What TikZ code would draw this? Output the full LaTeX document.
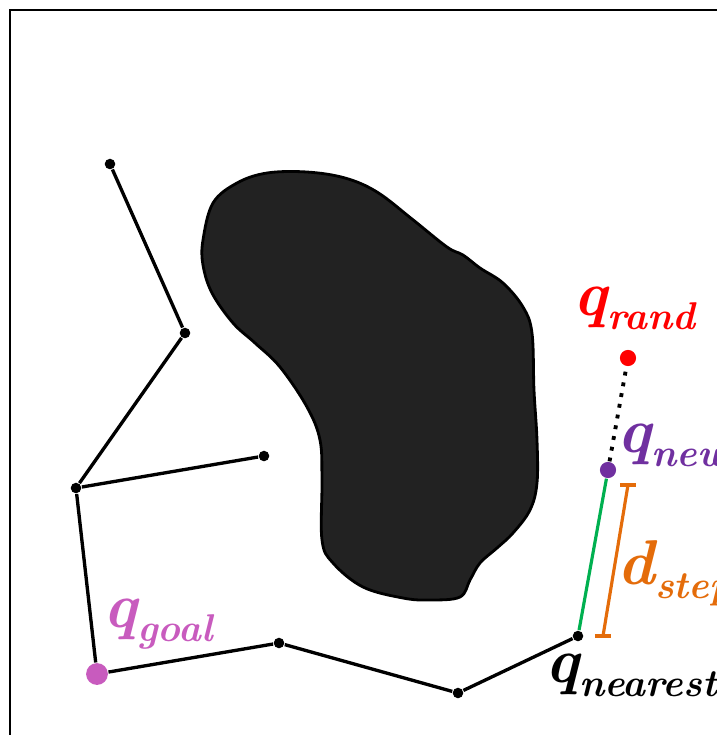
\documentclass[tikz,border=0pt]{standalone}
\usepackage{fontspec}
\definecolor{cred}{HTML}{FF0000}
\definecolor{cpurple}{HTML}{7030A0}
\definecolor{cpink}{HTML}{C85BBE}
\definecolor{corange}{HTML}{E46C0A}
\definecolor{cgreen}{HTML}{00B050}
\definecolor{cblob}{HTML}{222222}
\newcommand{\qlab}[2]{{\bfseries\itshape #1\raisebox{-0.5ex}{\fontsize{11}{13}\selectfont #2}}}
\tikzset{
  edge/.style={line width=0.95pt, black},
  vdot/.style={circle, fill=black, inner sep=0pt, minimum size=3pt},
  lbl/.style={anchor=base west, inner sep=0pt, font=\fontsize{18}{21}\selectfont}
}
\begin{document}
\begin{tikzpicture}[x=0.01cm, y=-0.01cm]
\useasboundingbox (0,0) rectangle (717,735);
% frame
\draw[line width=0.6pt] (10,740) -- (10,10) -- (725,10);
% obstacle
\filldraw[fill=cblob, draw=black, line width=0.8pt] plot[smooth cycle, tension=0.6] coordinates {
(307,172) (345,178) (377,192) (412,219) (447,247) (463,255) (480,268) (503,283) (523,307) (532,333) (534,390) (537,440) (537,483) (530,510) (513,533) (497,548) (480,563) (470,580) (460,597) (430,600) (403,598) (363,587) (333,563) (322,540) (322,480) (320,440) (307,407) (280,367) (255,343) (233,323) (212,293) (203,265) (203,240) (213,203) (237,183) (267,173)};
% vertices
\node[vdot] (a) at (110,164) {};
\node[vdot] (b) at (185,333) {};
\node[vdot] (c) at (76,488) {};
\node[vdot] (d) at (264,456) {};
\node[vdot, minimum size=6.2pt, fill=cpink] (goal) at (97,674) {};
\node[vdot] (e) at (279,643) {};
\node[vdot] (f) at (458,693) {};
\node[vdot] (near) at (578,636) {};
\node[vdot, minimum size=4.6pt, fill=cpurple] (new) at (608,470) {};
\node[vdot, minimum size=4.6pt, fill=cred] (rand) at (628,358) {};
% edges
\draw[edge] (a) -- (b);
\draw[edge] (b) -- (c);
\draw[edge] (c) -- (d);
\draw[edge] (c) -- (goal);
\draw[edge] (goal) -- (e);
\draw[edge] (e) -- (f);
\draw[edge] (f) -- (near);
\draw[line width=0.9pt, cgreen] (near) -- (new);
\draw[line width=1.1pt, dotted, black] (new) -- (rand);
% step dimension
\coordinate (s1) at (628,485);
\coordinate (s2) at (603,636);
\draw[line width=0.9pt, corange] (s1) -- (s2);
\draw[line width=0.9pt, corange] ([xshift=-0.08cm]s1) -- ([xshift=0.08cm]s1);
\draw[line width=0.9pt, corange] ([xshift=-0.08cm]s2) -- ([xshift=0.08cm]s2);
% labels
\node[lbl, text=cred] (lrand) at (573,315) {\qlab{q}{rand}};
\node[lbl, text=cpurple] (lnew) at (617,452) {\qlab{q}{new}};
\node[lbl, text=corange] (lstep) at (617,584) {\qlab{d}{step}};
\node[lbl, text=cpink] (lgoal) at (103,627) {\qlab{q}{goal}};
\node[lbl, text=black] (lnear) at (545,682) {\qlab{q}{nearest}};
\end{tikzpicture}
\end{document}
